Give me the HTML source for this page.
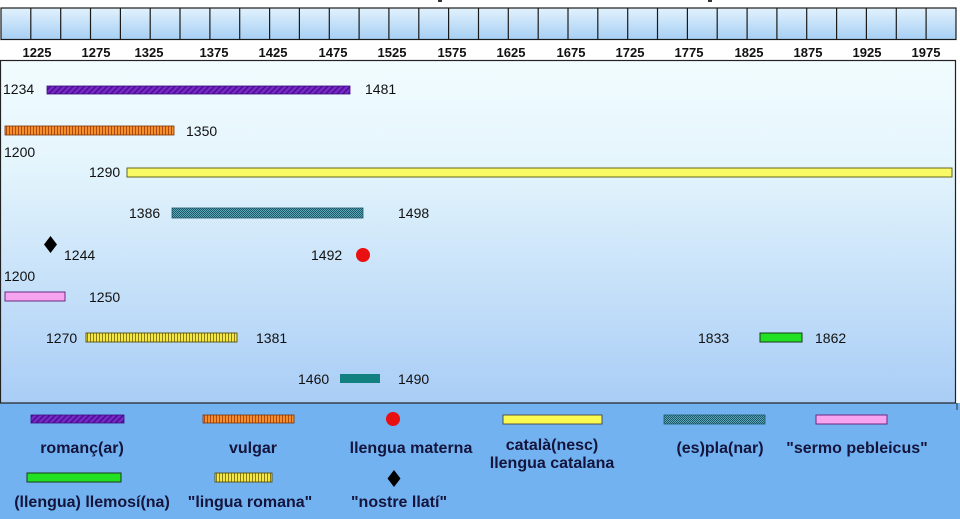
<!DOCTYPE html>
<html>
<head>
<meta charset="utf-8">
<style>
  html,body{margin:0;padding:0;background:#fff;}
  svg{display:block;}
  .tk{font-family:"Liberation Sans",Arial,sans-serif;font-weight:bold;font-size:13px;fill:#111;text-anchor:middle;}
  .dl{font-family:"Liberation Sans",Arial,sans-serif;font-size:14px;fill:#111;}
  .lg{font-family:"Liberation Sans",Arial,sans-serif;font-weight:bold;font-size:16px;fill:#14143c;text-anchor:middle;}
</style>
</head>
<body>
<svg width="960" height="519" viewBox="0 0 960 519" xmlns="http://www.w3.org/2000/svg">
  <defs>
    <linearGradient id="cell" x1="0" y1="0" x2="0" y2="1">
      <stop offset="0" stop-color="#e2f2fd"/>
      <stop offset="1" stop-color="#a6cff4"/>
    </linearGradient>
    <linearGradient id="panel" x1="0" y1="0" x2="0" y2="1">
      <stop offset="0" stop-color="#f2fcff"/>
      <stop offset="0.3" stop-color="#e4f5fc"/>
      <stop offset="1" stop-color="#a9cdf6"/>
    </linearGradient>
    <pattern id="purp" width="4" height="4" patternUnits="userSpaceOnUse" patternTransform="rotate(45)">
      <rect width="4" height="4" fill="#7a28c8"/>
      <rect width="1.5" height="4" fill="#4a1090"/>
    </pattern>
    <pattern id="orng" width="3" height="4" patternUnits="userSpaceOnUse">
      <rect width="3" height="4" fill="#f4902c"/>
      <rect width="1" height="4" fill="#b04a10"/>
    </pattern>
    <pattern id="ylh" width="3" height="4" patternUnits="userSpaceOnUse">
      <rect width="3" height="4" fill="#f4e846"/>
      <rect width="1" height="4" fill="#8a7a10"/>
    </pattern>
    <pattern id="chk" width="2" height="2" patternUnits="userSpaceOnUse">
      <rect width="2" height="2" fill="#5aa8b8"/>
      <rect width="1" height="1" fill="#1e5868"/>
      <rect x="1" y="1" width="1" height="1" fill="#1e5868"/>
    </pattern>
  </defs>

  <!-- top strip -->
  <rect x="1" y="8" width="955" height="31.5" fill="url(#cell)" stroke="#1a1a1a" stroke-width="1.2"/>
  <g stroke="#1a1a1a" stroke-width="1.2">
    <line x1="30.8" y1="8" x2="30.8" y2="39.5"/>
    <line x1="60.7" y1="8" x2="60.7" y2="39.5"/>
    <line x1="90.5" y1="8" x2="90.5" y2="39.5"/>
    <line x1="120.4" y1="8" x2="120.4" y2="39.5"/>
    <line x1="150.2" y1="8" x2="150.2" y2="39.5"/>
    <line x1="180.0" y1="8" x2="180.0" y2="39.5"/>
    <line x1="209.9" y1="8" x2="209.9" y2="39.5"/>
    <line x1="239.7" y1="8" x2="239.7" y2="39.5"/>
    <line x1="269.6" y1="8" x2="269.6" y2="39.5"/>
    <line x1="299.4" y1="8" x2="299.4" y2="39.5"/>
    <line x1="329.3" y1="8" x2="329.3" y2="39.5"/>
    <line x1="359.1" y1="8" x2="359.1" y2="39.5"/>
    <line x1="388.9" y1="8" x2="388.9" y2="39.5"/>
    <line x1="418.8" y1="8" x2="418.8" y2="39.5"/>
    <line x1="448.6" y1="8" x2="448.6" y2="39.5"/>
    <line x1="478.5" y1="8" x2="478.5" y2="39.5"/>
    <line x1="508.3" y1="8" x2="508.3" y2="39.5"/>
    <line x1="538.2" y1="8" x2="538.2" y2="39.5"/>
    <line x1="568.0" y1="8" x2="568.0" y2="39.5"/>
    <line x1="597.8" y1="8" x2="597.8" y2="39.5"/>
    <line x1="627.7" y1="8" x2="627.7" y2="39.5"/>
    <line x1="657.5" y1="8" x2="657.5" y2="39.5"/>
    <line x1="687.4" y1="8" x2="687.4" y2="39.5"/>
    <line x1="717.2" y1="8" x2="717.2" y2="39.5"/>
    <line x1="747.1" y1="8" x2="747.1" y2="39.5"/>
    <line x1="776.9" y1="8" x2="776.9" y2="39.5"/>
    <line x1="806.7" y1="8" x2="806.7" y2="39.5"/>
    <line x1="836.6" y1="8" x2="836.6" y2="39.5"/>
    <line x1="866.4" y1="8" x2="866.4" y2="39.5"/>
    <line x1="896.3" y1="8" x2="896.3" y2="39.5"/>
    <line x1="926.1" y1="8" x2="926.1" y2="39.5"/>
  </g>
  <!-- partial title descenders -->
  <rect x="438" y="0" width="4" height="2" fill="#333"/>
  <rect x="708" y="0" width="4" height="2" fill="#333"/>

  <!-- tick labels -->
  <g class="tk">
    <text x="37" y="57">1225</text>
    <text x="96" y="57">1275</text>
    <text x="149" y="57">1325</text>
    <text x="214" y="57">1375</text>
    <text x="273" y="57">1425</text>
    <text x="333" y="57">1475</text>
    <text x="392" y="57">1525</text>
    <text x="452" y="57">1575</text>
    <text x="511" y="57">1625</text>
    <text x="571" y="57">1675</text>
    <text x="630" y="57">1725</text>
    <text x="689" y="57">1775</text>
    <text x="749" y="57">1825</text>
    <text x="808" y="57">1875</text>
    <text x="867" y="57">1925</text>
    <text x="926" y="57">1975</text>
  </g>

  <!-- legend background -->
  <rect x="0" y="403" width="960" height="116" fill="#72b2f0"/>
  <!-- main panel -->
  <rect x="0.5" y="60.5" width="955" height="342.5" fill="url(#panel)" stroke="#222" stroke-width="1.2"/>
  <line x1="957" y1="403" x2="957" y2="410" stroke="#333" stroke-width="1"/>

  <!-- bars -->
  <rect x="47" y="86" width="303" height="8" fill="url(#purp)" stroke="#3a0a80" stroke-width="0.8"/>
  <rect x="5" y="126" width="169" height="9" fill="url(#orng)" stroke="#7a3008" stroke-width="0.8"/>
  <rect x="127" y="168" width="825" height="9" fill="#fafa66" stroke="#55550a" stroke-width="0.9"/>
  <rect x="172" y="208" width="191" height="10" fill="url(#chk)" stroke="#1e5868" stroke-width="0.8"/>
  <polygon points="50.5,236 57,244.5 50.5,253 44,244.5" fill="#000"/>
  <circle cx="363" cy="255" r="7" fill="#e81010"/>
  <rect x="5" y="292" width="60" height="9" fill="#f6a4f0" stroke="#6a2a80" stroke-width="1"/>
  <rect x="86" y="333" width="151" height="9" fill="url(#ylh)" stroke="#555010" stroke-width="0.9"/>
  <rect x="340" y="374" width="40" height="9" fill="#138080"/>
  <rect x="760" y="333" width="42" height="9" fill="#22e022" stroke="#1a3a1a" stroke-width="1"/>

  <!-- data labels -->
  <g class="dl">
    <text x="3" y="94">1234</text>
    <text x="365" y="94">1481</text>
    <text x="186" y="136">1350</text>
    <text x="4" y="157">1200</text>
    <text x="89" y="177">1290</text>
    <text x="129" y="218">1386</text>
    <text x="398" y="218">1498</text>
    <text x="64" y="260">1244</text>
    <text x="311" y="260">1492</text>
    <text x="4" y="281">1200</text>
    <text x="89" y="302">1250</text>
    <text x="46" y="343">1270</text>
    <text x="256" y="343">1381</text>
    <text x="298" y="384">1460</text>
    <text x="398" y="384">1490</text>
    <text x="698" y="343">1833</text>
    <text x="815" y="343">1862</text>
  </g>

  <!-- legend swatches -->
  <rect x="31" y="415" width="93" height="8" fill="url(#purp)" stroke="#3a0a80" stroke-width="0.8"/>
  <rect x="203" y="415" width="91" height="8" fill="url(#orng)" stroke="#7a3008" stroke-width="0.8"/>
  <circle cx="393" cy="419" r="7" fill="#e81010"/>
  <rect x="503" y="415" width="99" height="9" fill="#fafa50" stroke="#444" stroke-width="0.9"/>
  <rect x="664" y="415" width="101" height="9" fill="url(#chk)" stroke="#1e5868" stroke-width="0.8"/>
  <rect x="816" y="415" width="71" height="9" fill="#f6a4f0" stroke="#6a2a80" stroke-width="1"/>
  <rect x="27" y="473" width="94" height="9" fill="#22e022" stroke="#1a3a1a" stroke-width="1"/>
  <rect x="215" y="473" width="57" height="9" fill="url(#ylh)" stroke="#555010" stroke-width="0.9"/>
  <polygon points="394,470 400.5,478.5 394,487 387.5,478.5" fill="#000"/>

  <!-- legend labels -->
  <g class="lg">
    <text x="82" y="453">romanç(ar)</text>
    <text x="253" y="453">vulgar</text>
    <text x="411" y="453">llengua materna</text>
    <text x="552" y="450">català(nesc)</text>
    <text x="552" y="468">llengua catalana</text>
    <text x="720" y="453">(es)pla(nar)</text>
    <text x="857" y="453">"sermo pebleicus"</text>
    <text x="92" y="507">(llengua) llemosí(na)</text>
    <text x="250" y="507">"lingua romana"</text>
    <text x="399" y="507">"nostre llatí"</text>
  </g>
</svg>
</body>
</html>
